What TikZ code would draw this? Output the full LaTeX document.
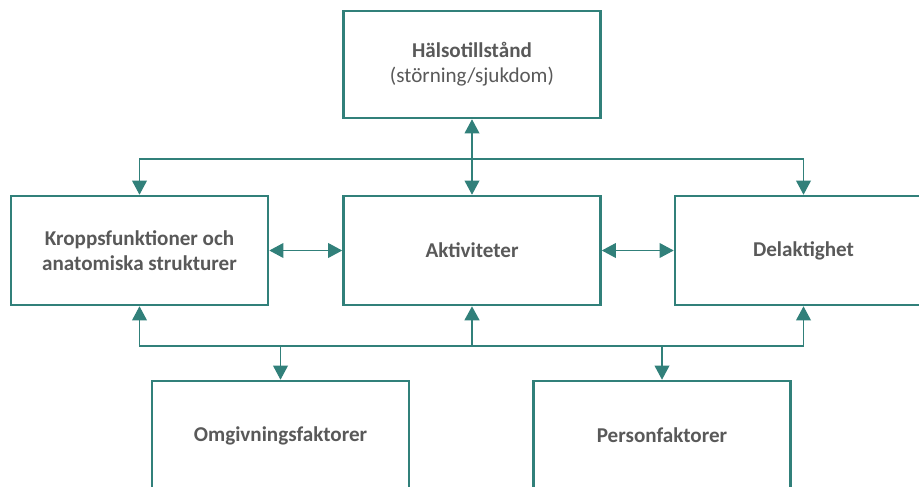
\documentclass[tikz,border=0pt]{standalone}
\usepackage{fontspec}
\setmainfont{Carlito}
\usetikzlibrary{arrows.meta}
\definecolor{icfteal}{HTML}{31807A}
\definecolor{icftext}{HTML}{595959}
\tikzset{
  box/.style={draw=icfteal, line width=1.8pt, fill=white, minimum width=6.425cm,
    minimum height=2.725cm, align=center, text=icftext, font=\fontsize{15}{18}\selectfont},
  link/.style={draw=icfteal, line width=0.9pt, -{Triangle[width=10.5pt,length=10pt]}},
  dlink/.style={link, {Triangle[width=10.5pt,length=10pt]}-{Triangle[width=10.5pt,length=10pt]}}
}
\begin{document}
\begin{tikzpicture}[x=0.025cm, y=-0.025cm]
  \useasboundingbox (0,0) rectangle (919,486);
  \clip (0,0) rectangle (919,486);
  % Boxes
  \node[box, minimum height=2.675cm] (hals) at (472,64.5) {\textbf{Hälsotillstånd}\\(störning/sjukdom)};
  \node[box] (kropp) at (139.5,250.5) {\textbf{Kroppsfunktioner och}\\\textbf{anatomiska strukturer}};
  \node[box] (akt) at (472,250.5) {\textbf{Aktiviteter}};
  \node[box] (del) at (803.5,250.5) {\textbf{Delaktighet}};
  \node[box] (omg) at (280.5,435.5) {\textbf{Omgivningsfaktorer}};
  \node[box] (pers) at (662,435.5) {\textbf{Personfaktorer}};
  % Connectors
  \coordinate (top) at (472,159);
  \coordinate (bot) at (472,346);
  \draw[dlink] (hals.south) -- (akt.north);
  \draw[link] (top) -| (kropp.north);
  \draw[link] (top) -| (del.north);
  \draw[dlink] (kropp) -- (akt);
  \draw[dlink] (akt) -- (del);
  \draw[link] (bot) -| (kropp.south);
  \draw[link] (bot) -| (del.south);
  \draw[link, line width=1.6pt] (bot) -- (akt.south);
  \draw[link] (bot) -| (omg.north);
  \draw[link] (bot) -| (pers.north);
\end{tikzpicture}
\end{document}
